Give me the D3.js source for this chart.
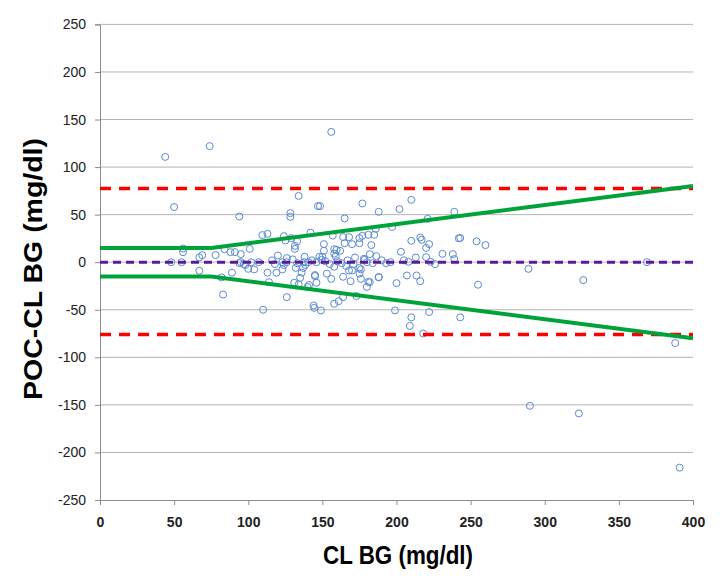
<!DOCTYPE html>
<html><head><meta charset="utf-8">
<script src="https://cdn.jsdelivr.net/npm/d3@7"></script>
<style>body{margin:0;background:#fff}</style>
</head><body>
<svg id="c" width="724" height="585"></svg>
<script>
const xTicks = [0,50,100,150,200,250,300,350,400];
const yTicks = [-250,-200,-150,-100,-50,0,50,100,150,200,250];
const pointsX = [44,74,50,94,56,56,48,55,67,69,78,84,88,91,95,95,97,67,82,83,89,94,100,104,107,102,101,98,
109.5,113,124,125,129,133,142,131.5,131.5,120,126,126,138,148,134,128.4,128.4,147,113,114,119,123,124,123,126,110,131,134,135,136,137,132,138.5,140.5,141,140,144,144.5,145,146,137.6,145,149,116,118,130,133,143,146,150,149.5,
156,148.4,177,165,186,157,164,168,175,177,181,185,151,165,170,175,183,158,159.6,162,158,159,151,172,178,178.5,182,186.4,153,156,158,164,168,170,169,175,176,175,176,180,181,188,158,161,164,173,188,197,182,155,160,163,167,171,180,184,190,193,196,152,166,
199,202,210,239,221,210,216,217,220,222,242,243,254,260,203,231,238,239,213,220,223,208,289,369,326,188,200,207,213.5,216,255,210,209,222,218,243,388,290,323,391,205,226];
const pointsY = [110.7,122,58,48,14.4,10.5,0,0,5,7.4,7.5,13.7,10.6,10.6,8.5,0,-2,-9,-16,-34,-11,-1,-7,-7.6,0,0,14,-3,
28.5,29.8,27.4,22.8,25.3,22,31,17.2,14,7,4.3,0,5.7,5.7,69.7,51.6,47.7,59,-11,-21,-11,-7.6,-3,0,-36.7,-50,-21.6,-23.4,-16.4,-11,-6,-6,-3,0,-24,-26,-45.5,-48,-14.6,-21.6,0,-13.5,-50.7,2,-2,3,-1,2,0,5.7,2.5,
137,59,61.7,46,35,28,26.4,26.4,25.3,27.7,28.8,28.8,19,20,19,20,18,13.7,13,12,9,6,12,5,3.6,2.5,8.5,6.4,-12,-17.5,-4.8,-15.3,-8.7,-8.7,-20,-6,-7.6,-12,-17.5,-26,-20.6,-15.6,-43.7,-41,-36.7,-35.6,53,37,-21,-2,1,-1,2,-2,0,-1,2,-1,0,1,-4,
-50.7,55.8,65.5,53,45.6,22.5,26,23.5,15,19,25,25.5,22,18,11,8.8,8.5,3.3,5,5.3,0.4,0.4,-7,0,-18.8,-16,-22,-14,-14,-20,-23.7,-58,-67,-52.4,-75,-58,-85,-151,-159,-216,2,-2];
const meanDiff = 0;
const upperLoA = 77.5;
const lowerLoA = -76;
const limitX = [0,75,400];
const limitUpper = [15,15,80];
const limitLower = [-15,-15,-80];

const svg = d3.select('#c');
const x = d3.scaleLinear().domain([0,400]).range([100,693]);
const y = d3.scaleLinear().domain([-250,250]).range([500,24.4]);
const fam = '"Liberation Sans", Arial, sans-serif';

// gridlines
svg.append('g').selectAll('line').data(yTicks.filter(d=>d>-250)).join('line')
  .attr('x1',x(0)).attr('x2',x(400)).attr('y1',d=>y(d)).attr('y2',d=>y(d))
  .attr('stroke','#b4b4b4').attr('stroke-width',1);

// axes
const fmt = d => String(d);
const yAxis = svg.append('g').attr('transform',`translate(${x(0)},0)`)
  .call(d3.axisLeft(y).tickValues(yTicks).tickSize(5).tickPadding(9).tickFormat(fmt));
const xAxis = svg.append('g').attr('transform',`translate(0,${y(-250)})`)
  .call(d3.axisBottom(x).tickValues(xTicks).tickSize(5).tickPadding(12).tickFormat(fmt));
[yAxis,xAxis].forEach(a=>{
  a.select('.domain').attr('stroke','#8c8c8c');
  a.selectAll('.tick line').attr('stroke','#8c8c8c');
  a.selectAll('.tick text').attr('fill','#222').attr('font-family',fam).attr('font-size',14);
});
xAxis.selectAll('.tick text').attr('font-weight','bold');

// points
const pts = pointsX.map((v,i)=>[v,pointsY[i]]);
svg.append('g').selectAll('circle').data(pts).join('circle')
  .attr('cx',d=>x(d[0])).attr('cy',d=>y(d[1])).attr('r',3.5)
  .attr('fill','none').attr('stroke','#5b8ad0').attr('stroke-width',1);

// mean line
svg.append('line').attr('x1',x(0)).attr('x2',x(400)).attr('y1',y(meanDiff)).attr('y2',y(meanDiff))
  .attr('stroke','#5a1a9c').attr('stroke-width',3).attr('stroke-dasharray','8,5');
// LoA lines
[upperLoA,lowerLoA].forEach(v=>{
  svg.append('line').attr('x1',x(0)).attr('x2',x(400)).attr('y1',y(v)).attr('y2',y(v))
    .attr('stroke','#ff0000').attr('stroke-width',3.5).attr('stroke-dasharray','11,8');
});
// green limits
const line = d3.line().x(d=>x(d[0])).y(d=>y(d[1]));
[limitUpper,limitLower].forEach(arr=>{
  svg.append('path').attr('d',line(limitX.map((v,i)=>[v,arr[i]])))
    .attr('fill','none').attr('stroke','#00a33a').attr('stroke-width',4);
});

// titles
svg.append('text').attr('x',398).attr('y',564).attr('text-anchor','middle')
  .attr('font-family',fam).attr('font-weight','bold').attr('font-size',25)
  .attr('textLength',150).attr('lengthAdjust','spacingAndGlyphs')
  .text('CL BG (mg/dl)');
svg.append('text').attr('transform','translate(42,269) rotate(-90)').attr('text-anchor','middle')
  .attr('font-family',fam).attr('font-weight','bold').attr('font-size',25)
  .attr('textLength',262).attr('lengthAdjust','spacingAndGlyphs')
  .text('POC-CL BG (mg/dl)');
</script>
</body></html>
